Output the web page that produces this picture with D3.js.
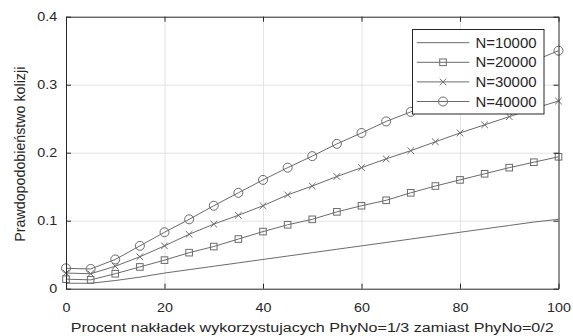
<!DOCTYPE html>
<html>
<head>
<meta charset="utf-8">
<script src="https://cdn.jsdelivr.net/npm/d3@7"></script>
<style>
  body{margin:0;background:#fff;}
  svg{display:block;}
  text{font-family:"Liberation Sans",Arial,sans-serif;fill:#262626;}
</style>
</head>
<body>
<div id="chart"></div>
<script>
// datos
var procent = [0,5,10,15,20,25,30,35,40,45,50,55,60,65,70,75,80,85,90,95,100];
var n10000 = [0.008,0.008,0.012,0.017,0.023,0.028,0.033,0.038,0.043,0.048,0.053,0.058,0.063,0.068,0.073,0.078,0.083,0.088,0.093,0.098,0.102];
var n20000 = [0.014,0.013,0.022,0.032,0.042,0.053,0.062,0.073,0.084,0.094,0.102,0.113,0.122,0.130,0.141,0.151,0.160,0.169,0.178,0.186,0.194];
var n30000 = [0.023,0.022,0.033,0.047,0.063,0.080,0.095,0.108,0.122,0.138,0.151,0.165,0.178,0.191,0.203,0.216,0.229,0.241,0.253,0.265,0.276];
var n40000 = [0.030,0.029,0.043,0.063,0.083,0.102,0.122,0.141,0.160,0.178,0.195,0.213,0.229,0.246,0.260,0.275,0.290,0.305,0.320,0.335,0.350];
var etiquetas = ["N=10000","N=20000","N=30000","N=40000"];
var marcadores = ["none","square","x","circle"];
var xTicks = [0,20,40,60,80,100];
var yTicks = [0,0.1,0.2,0.3,0.4];
var xTitulo = "Procent nakładek wykorzystujacych PhyNo=1/3 zamiast PhyNo=0/2";
var yTitulo = "Prawdopodobieństwo kolizji";

var series = [n10000,n20000,n30000,n40000];

var W = 573, H = 336;
var izq = 66, der = 558.5, arriba = 16.7, abajo = 288.7;
var colorLinea = "#6b6b6b";
var colorTexto = "#333";

var svg = d3.select("#chart")
            .append("svg")
            .attr("width", W)
            .attr("height", H);

svg.append("rect").attr("width",W).attr("height",H).attr("fill","#fff");

var x = d3.scaleLinear().domain([0,100]).range([izq,der]);
var y = d3.scaleLinear().domain([0,0.4]).range([abajo,arriba]);

// rejilla
var rejilla = svg.append("g");
rejilla.append("g")
       .attr("transform","translate(0,"+abajo+")")
       .call(d3.axisBottom(x).tickValues(xTicks.slice(1,-1)).tickSize(-(abajo-arriba)).tickFormat(""))
       .call(function(g){ g.select(".domain").remove(); g.selectAll("line").attr("stroke","#e3e3e3"); });
rejilla.append("g")
       .attr("transform","translate("+izq+",0)")
       .call(d3.axisLeft(y).tickValues(yTicks.slice(1,-1)).tickSize(-(der-izq)).tickFormat(""))
       .call(function(g){ g.select(".domain").remove(); g.selectAll("line").attr("stroke","#e3e3e3"); });

// dibuja un marcador en un grupo
function marcador(sel, tipo){
  if(tipo === "circle"){
    sel.append("circle").attr("r",4.5);
  } else if(tipo === "square"){
    sel.append("rect").attr("x",-3.3).attr("y",-3.3).attr("width",6.6).attr("height",6.6);
  } else if(tipo === "x"){
    sel.append("path").attr("d","M-3.3,-3.3L3.3,3.3M-3.3,3.3L3.3,-3.3");
  }
}

var linea = d3.line()
              .x(function(d,i){ return x(procent[i]); })
              .y(function(d){ return y(d); });

var grupoSeries = svg.append("g")
                     .attr("fill","none")
                     .attr("stroke",colorLinea)
                     .attr("stroke-width",1);

series.forEach(function(valores, s){
  grupoSeries.append("path")
             .attr("d", linea(valores));
  if(marcadores[s] !== "none"){
    valores.forEach(function(v,i){
      var g = grupoSeries.append("g")
                         .attr("transform","translate("+x(procent[i])+","+y(v)+")");
      marcador(g, marcadores[s]);
    });
  }
});

// ejes con ticks hacia dentro
var estiloEje = function(g){
  g.select(".domain").attr("stroke","#262626").attr("stroke-width",1);
  g.selectAll(".tick line").attr("stroke","#262626");
  g.selectAll("text").style("font-family",'"Liberation Sans",Arial,sans-serif').attr("fill",colorTexto);
};

svg.append("g")
   .attr("transform","translate(0,"+abajo+")")
   .call(d3.axisBottom(x).tickValues(xTicks).tickSizeInner(-5).tickSizeOuter(0).tickPadding(14.5))
   .call(estiloEje)
   .call(function(g){ g.selectAll("text").attr("font-size",13).attr("transform","scale(1.1,1)"); });

svg.append("g")
   .attr("transform","translate("+izq+",0)")
   .call(d3.axisLeft(y).tickValues(yTicks).tickSizeInner(-5).tickSizeOuter(0).tickPadding(8).tickFormat(function(d){ return d === 0 ? "0" : d3.format(".1f")(d); }))
   .call(estiloEje)
   .call(function(g){ g.selectAll("text").attr("font-size",13).attr("transform","scale(1.1,1)"); });

svg.append("g")
   .attr("transform","translate(0,"+arriba+")")
   .call(d3.axisTop(x).tickValues(xTicks).tickSizeInner(-5).tickSizeOuter(0).tickFormat(""))
   .call(estiloEje);

svg.append("g")
   .attr("transform","translate("+der+",0)")
   .call(d3.axisRight(y).tickValues(yTicks).tickSizeInner(-5).tickSizeOuter(0).tickFormat(""))
   .call(estiloEje);

// titulos de los ejes
svg.append("text")
   .attr("x",(izq+der)/2)
   .attr("y",332)
   .attr("text-anchor","middle")
   .attr("font-size",12.5)
   .attr("fill",colorTexto)
   .attr("textLength",483)
   .attr("lengthAdjust","spacingAndGlyphs")
   .text(xTitulo);

svg.append("text")
   .attr("transform","translate(25,"+((arriba+abajo)/2+1.5)+") rotate(-90) scale(1,1.15)")
   .attr("text-anchor","middle")
   .attr("font-size",12)
   .attr("fill",colorTexto)
   .attr("textLength",175)
   .attr("lengthAdjust","spacingAndGlyphs")
   .text(yTitulo);

// leyenda
var leyenda = svg.append("g");
leyenda.append("rect")
       .attr("x",412.5).attr("y",29.5)
       .attr("width",131.5).attr("height",84.5)
       .attr("fill","#fff")
       .attr("stroke","#262626")
       .attr("stroke-width",1);

etiquetas.forEach(function(et, i){
  var yy = 42.7 + i*19.6;
  leyenda.append("line")
         .attr("x1",416.7).attr("x2",469.3)
         .attr("y1",yy).attr("y2",yy)
         .attr("stroke",colorLinea);
  var g = leyenda.append("g")
                 .attr("transform","translate(443,"+yy+")")
                 .attr("fill","none")
                 .attr("stroke",colorLinea);
  marcador(g, marcadores[i]);
  leyenda.append("text")
         .attr("x",475.5)
         .attr("y",yy)
         .attr("dy","0.36em")
         .attr("font-size",14)
         .attr("fill","#262626")
         .attr("textLength",61)
         .attr("lengthAdjust","spacingAndGlyphs")
         .text(et);
});
</script>
</body>
</html>
